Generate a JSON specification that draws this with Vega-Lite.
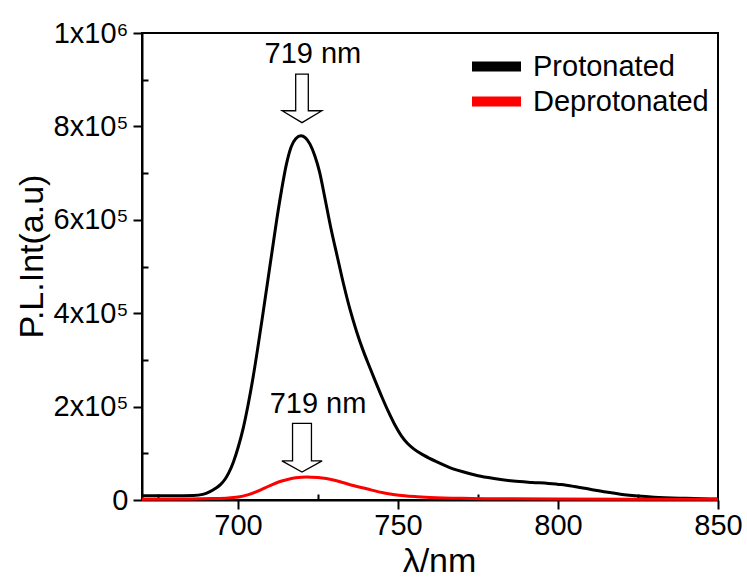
{
  "$schema": "https://vega.github.io/schema/vega-lite/v6.json",
  "width": 576,
  "height": 467,
  "autosize": "none",
  "padding": {"left": 142, "top": 33, "right": 29, "bottom": 77},
  "background": "white",
  "config": {
    "font": "Liberation Sans",
    "view": {"stroke": "black", "strokeWidth": 2},
    "axis": {
      "domainColor": "black", "domainWidth": 2, "tickColor": "black", "tickWidth": 2,
      "labelColor": "black", "titleColor": "black", "grid": false,
      "labelFont": "Liberation Sans", "titleFont": "Liberation Sans",
      "titleFontWeight": "normal"
    },
    "legend": {
      "orient": "none", "legendX": 340, "legendY": 19, "padding": 0,
      "labelFontSize": 29, "labelColor": "black", "labelFont": "Liberation Sans",
      "labelLimit": 400,
      "symbolType": "M-4,0L4,0", "symbolStrokeWidth": 10, "symbolSize": 150,
      "labelOffset": 22, "rowPadding": -8, "title": null
    }
  },
  "datasets": {
    "spectra": [
      {"lambda": 670, "intensity": 9000, "series": "Protonated"},
      {"lambda": 680, "intensity": 9000, "series": "Protonated"},
      {"lambda": 686, "intensity": 9500, "series": "Protonated"},
      {"lambda": 689, "intensity": 12000, "series": "Protonated"},
      {"lambda": 691.25, "intensity": 18000, "series": "Protonated"},
      {"lambda": 693, "intensity": 25000, "series": "Protonated"},
      {"lambda": 694.5, "intensity": 33000, "series": "Protonated"},
      {"lambda": 696, "intensity": 45000, "series": "Protonated"},
      {"lambda": 697.1, "intensity": 58000, "series": "Protonated"},
      {"lambda": 698.6, "intensity": 82000, "series": "Protonated"},
      {"lambda": 700.1, "intensity": 114000, "series": "Protonated"},
      {"lambda": 701.6, "intensity": 153000, "series": "Protonated"},
      {"lambda": 703.1, "intensity": 202000, "series": "Protonated"},
      {"lambda": 704.6, "intensity": 258000, "series": "Protonated"},
      {"lambda": 706.1, "intensity": 322000, "series": "Protonated"},
      {"lambda": 707.6, "intensity": 390000, "series": "Protonated"},
      {"lambda": 709.1, "intensity": 460000, "series": "Protonated"},
      {"lambda": 710.6, "intensity": 530000, "series": "Protonated"},
      {"lambda": 712.1, "intensity": 600000, "series": "Protonated"},
      {"lambda": 713.6, "intensity": 663000, "series": "Protonated"},
      {"lambda": 715.1, "intensity": 718000, "series": "Protonated"},
      {"lambda": 716.6, "intensity": 756000, "series": "Protonated"},
      {"lambda": 718.1, "intensity": 774000, "series": "Protonated"},
      {"lambda": 719.7, "intensity": 780000, "series": "Protonated"},
      {"lambda": 721, "intensity": 776000, "series": "Protonated"},
      {"lambda": 722.5, "intensity": 762000, "series": "Protonated"},
      {"lambda": 724, "intensity": 737000, "series": "Protonated"},
      {"lambda": 725.5, "intensity": 702000, "series": "Protonated"},
      {"lambda": 727, "intensity": 652000, "series": "Protonated"},
      {"lambda": 729, "intensity": 583000, "series": "Protonated"},
      {"lambda": 731, "intensity": 522000, "series": "Protonated"},
      {"lambda": 733, "intensity": 462000, "series": "Protonated"},
      {"lambda": 735, "intensity": 408000, "series": "Protonated"},
      {"lambda": 737, "intensity": 362000, "series": "Protonated"},
      {"lambda": 739, "intensity": 322000, "series": "Protonated"},
      {"lambda": 741, "intensity": 287000, "series": "Protonated"},
      {"lambda": 743, "intensity": 253000, "series": "Protonated"},
      {"lambda": 745, "intensity": 220000, "series": "Protonated"},
      {"lambda": 747, "intensity": 189000, "series": "Protonated"},
      {"lambda": 749, "intensity": 161000, "series": "Protonated"},
      {"lambda": 751, "intensity": 138000, "series": "Protonated"},
      {"lambda": 753, "intensity": 121000, "series": "Protonated"},
      {"lambda": 755, "intensity": 109000, "series": "Protonated"},
      {"lambda": 758, "intensity": 96000, "series": "Protonated"},
      {"lambda": 762, "intensity": 82000, "series": "Protonated"},
      {"lambda": 766, "intensity": 70000, "series": "Protonated"},
      {"lambda": 770, "intensity": 61000, "series": "Protonated"},
      {"lambda": 775, "intensity": 52000, "series": "Protonated"},
      {"lambda": 780, "intensity": 46000, "series": "Protonated"},
      {"lambda": 786, "intensity": 40500, "series": "Protonated"},
      {"lambda": 792, "intensity": 37500, "series": "Protonated"},
      {"lambda": 797, "intensity": 35500, "series": "Protonated"},
      {"lambda": 801, "intensity": 33000, "series": "Protonated"},
      {"lambda": 805, "intensity": 29000, "series": "Protonated"},
      {"lambda": 810, "intensity": 23000, "series": "Protonated"},
      {"lambda": 815, "intensity": 17000, "series": "Protonated"},
      {"lambda": 820, "intensity": 12000, "series": "Protonated"},
      {"lambda": 825, "intensity": 8500, "series": "Protonated"},
      {"lambda": 830, "intensity": 6000, "series": "Protonated"},
      {"lambda": 840, "intensity": 3500, "series": "Protonated"},
      {"lambda": 850, "intensity": 2000, "series": "Protonated"},
      {"lambda": 670, "intensity": 1500, "series": "Deprotonated"},
      {"lambda": 685, "intensity": 2000, "series": "Deprotonated"},
      {"lambda": 692, "intensity": 3000, "series": "Deprotonated"},
      {"lambda": 697, "intensity": 4500, "series": "Deprotonated"},
      {"lambda": 700.6, "intensity": 7000, "series": "Deprotonated"},
      {"lambda": 703, "intensity": 11000, "series": "Deprotonated"},
      {"lambda": 705.8, "intensity": 18000, "series": "Deprotonated"},
      {"lambda": 710, "intensity": 31000, "series": "Deprotonated"},
      {"lambda": 712.9, "intensity": 39000, "series": "Deprotonated"},
      {"lambda": 715.2, "intensity": 43500, "series": "Deprotonated"},
      {"lambda": 718, "intensity": 47500, "series": "Deprotonated"},
      {"lambda": 721.5, "intensity": 49500, "series": "Deprotonated"},
      {"lambda": 725, "intensity": 48000, "series": "Deprotonated"},
      {"lambda": 729.8, "intensity": 43000, "series": "Deprotonated"},
      {"lambda": 733, "intensity": 37000, "series": "Deprotonated"},
      {"lambda": 736, "intensity": 31000, "series": "Deprotonated"},
      {"lambda": 740.2, "intensity": 24000, "series": "Deprotonated"},
      {"lambda": 745, "intensity": 16000, "series": "Deprotonated"},
      {"lambda": 748.5, "intensity": 12000, "series": "Deprotonated"},
      {"lambda": 752, "intensity": 9000, "series": "Deprotonated"},
      {"lambda": 756, "intensity": 7000, "series": "Deprotonated"},
      {"lambda": 760, "intensity": 5500, "series": "Deprotonated"},
      {"lambda": 770, "intensity": 3500, "series": "Deprotonated"},
      {"lambda": 780, "intensity": 2800, "series": "Deprotonated"},
      {"lambda": 800, "intensity": 2000, "series": "Deprotonated"},
      {"lambda": 850, "intensity": 1500, "series": "Deprotonated"}
    ],
    "arrows": [
      {"lambda": 720, "intensity": 860000, "position": "top"},
      {"lambda": 720, "intensity": 112000, "position": "bottom"}
    ],
    "labels": [
      {"lambda": 723.4, "intensity": 935000, "label": "719 nm"},
      {"lambda": 725, "intensity": 185600, "label": "719 nm"}
    ]
  },
  "layer": [
    {
      "data": {"name": "spectra"},
      "mark": {"type": "line", "strokeWidth": 3, "interpolate": "monotone"},
      "encoding": {
        "x": {
          "field": "lambda", "type": "quantitative",
          "scale": {"domain": [670, 850], "nice": false, "zero": false},
          "axis": {
            "orient": "bottom", "values": [700, 750, 800, 850], "tickSize": 9,
            "labelFontSize": 29, "labelPadding": 2, "labelFlush": false,
            "title": "λ/nm", "titleFontSize": 34, "titleX": 297, "titleY": 71,
            "titleAlign": "center", "titleBaseline": "alphabetic"
          }
        },
        "y": {
          "field": "intensity", "type": "quantitative",
          "scale": {"domain": [0, 1000000], "nice": false},
          "axis": {
            "orient": "left",
            "values": [0, 200000, 400000, 600000, 800000, 1000000],
            "labelExpr": "datum.value == 0 ? '0' : (datum.value == 1000000 ? '1x10⁶' : (datum.value / 100000) + 'x10⁵')",
            "tickSize": 9, "labelFontSize": 29, "labelPadding": 5, "labelFlush": false,
            "title": "P.L.Int(a.u)", "titleFontSize": 34, "titleX": -100, "titleY": 223,
            "titleAngle": -90, "titleAlign": "center", "titleBaseline": "alphabetic"
          }
        },
        "color": {
          "field": "series", "type": "nominal",
          "scale": {"domain": ["Protonated", "Deprotonated"], "range": ["black", "red"]},
          "legend": {"title": null}
        },
        "order": {"field": "lambda", "type": "quantitative"}
      }
    },
    {
      "data": {"name": "arrows"},
      "transform": [{"filter": "datum.position == 'top'"}],
      "mark": {
        "type": "point", "filled": true, "fill": "white", "fillOpacity": 1,
        "stroke": "black", "strokeWidth": 1.3, "opacity": 1, "size": 2352,
        "shape": "M-0.26,-1L0.26,-1L0.26,0.51L0.82,0.51L0,1L-0.82,0.51L-0.26,0.51Z"
      },
      "encoding": {
        "x": {
          "field": "lambda", "type": "quantitative",
          "axis": {
            "orient": "top", "offset": -467, "values": [675, 725, 775, 825],
            "tickSize": 6, "labels": false, "domain": false, "title": null
          }
        },
        "y": {
          "field": "intensity", "type": "quantitative",
          "axis": {
            "orient": "right", "offset": -576,
            "values": [100000, 300000, 500000, 700000, 900000],
            "tickSize": 6, "labels": false, "domain": false, "title": null
          }
        }
      }
    },
    {
      "data": {"name": "arrows"},
      "transform": [{"filter": "datum.position == 'bottom'"}],
      "mark": {
        "type": "point", "filled": true, "fill": "white", "fillOpacity": 1,
        "stroke": "black", "strokeWidth": 1.3, "opacity": 1, "size": 2352,
        "shape": "M-0.39,-1L0.39,-1L0.39,0.545L0.83,0.545L0,1L-0.83,0.545L-0.39,0.545Z"
      },
      "encoding": {
        "x": {"field": "lambda", "type": "quantitative", "axis": null},
        "y": {"field": "intensity", "type": "quantitative", "axis": null}
      }
    },
    {
      "data": {"name": "labels"},
      "mark": {"type": "text", "fontSize": 29, "font": "Liberation Sans", "align": "center", "baseline": "alphabetic", "color": "black"},
      "encoding": {
        "x": {"field": "lambda", "type": "quantitative", "axis": null},
        "y": {"field": "intensity", "type": "quantitative", "axis": null},
        "text": {"field": "label"}
      }
    }
  ]
}
